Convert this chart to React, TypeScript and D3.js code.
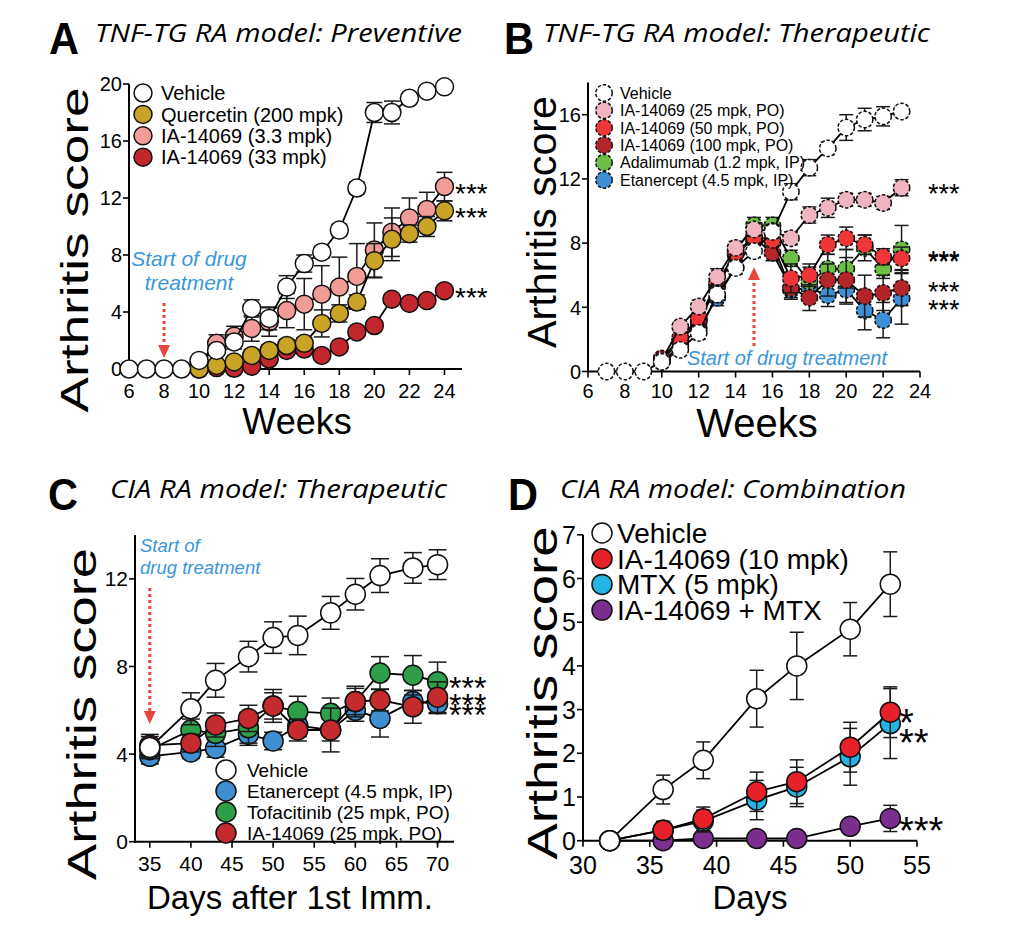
import React from "react";
import * as d3 from "d3";

// ---------------- Panel A data ----------------
const A_weeksVehicle = [6, 7, 8, 9, 10, 11, 12, 13, 14, 15, 16, 17, 18, 19, 20, 21, 22, 23, 24];
const A_weeksTreat = [10, 11, 12, 13, 14, 15, 16, 17, 18, 19, 20, 21, 22, 23, 24];
const A_vehicle = [0, 0, 0, 0, 0.6, 1.3, 1.9, 4.25, 3.55, 5.75, 7.4, 8.2, 9.75, 12.7, 18.0, 18.0, 19.0, 19.5, 19.8];
const A_vehicleErr = [0, 0, 0, 0, 0.2, 0.3, 0.5, 0.6, 0.8, 0.8, 0.6, 0.4, 0.4, 0.4, 0.7, 0.8, 0.3, 0.3, 0.2];
const A_quercetin = [0, 0.25, 0.5, 0.95, 1.3, 1.65, 1.8, 3.2, 3.9, 4.7, 7.6, 9.1, 9.5, 10.0, 11.1];
const A_quercetinErr = [0, 0.2, 0.3, 0.4, 0.4, 0.4, 0.4, 0.95, 0.6, 0.5, 1.2, 1.5, 0.6, 0.7, 0.7];
const A_ia3 = [0.4, 1.8, 2.3, 2.85, 3.3, 4.1, 4.55, 5.25, 5.75, 6.5, 8.35, 9.6, 10.6, 11.2, 12.8];
const A_ia3Err = [0.2, 0.6, 0.7, 0.9, 1.0, 1.2, 1.8, 2.0, 2.1, 2.3, 1.9, 1.7, 1.4, 1.2, 1.0];
const A_ia33 = [0, 0.1, 0.05, 0.2, 0.7, 1.3, 1.4, 0.95, 1.55, 2.6, 3.05, 4.9, 4.6, 4.8, 5.5];
const A_ia33Err = [0, 0.1, 0.1, 0.2, 0.3, 0.3, 0.3, 0.3, 0.3, 0.3, 0.3, 0.3, 0.3, 0.3, 0.3];
const A_xTicks = [6, 8, 10, 12, 14, 16, 18, 20, 22, 24];
const A_yTicks = [0, 4, 8, 12, 16, 20];
const A_legend = ["Vehicle", "Quercetin (200 mpk)", "IA-14069 (3.3 mpk)", "IA-14069 (33 mpk)"];

// ---------------- Panel B data ----------------
const B_weeksVehicle = [7, 8, 9, 10, 11, 12, 13, 14, 15, 16, 17, 18, 19, 20, 21, 22, 23];
const B_weeksTreat = [10, 11, 12, 13, 14, 15, 16, 17, 18, 19, 20, 21, 22, 23];
const B_vehicle = [0, 0, 0, 0.6, 1.35, 2.4, 4.8, 6.45, 7.5, 8.7, 11.2, 12.7, 13.9, 15.2, 15.7, 15.9, 16.2];
const B_vehicleErr = [0, 0, 0, 0.2, 0.3, 0.4, 0.5, 0.4, 0.4, 0.4, 0.5, 0.5, 0.4, 0.8, 0.7, 0.6, 0.3];
const B_ia25 = [0.7, 2.8, 4.05, 5.9, 7.7, 8.85, 8.75, 8.3, 9.75, 10.2, 10.7, 10.7, 10.5, 11.45];
const B_ia25Err = [0.2, 0.3, 0.4, 0.5, 0.4, 0.4, 0.4, 0.4, 0.5, 0.6, 0.4, 0.4, 0.4, 0.5];
const B_ia50 = [0.8, 2.1, 3.3, 5.5, 7.4, 8.4, 8.2, 5.8, 6.0, 7.9, 8.3, 7.9, 7.15, 7.05];
const B_ia50Err = [0.2, 0.3, 0.4, 0.5, 0.4, 0.4, 0.4, 0.9, 0.7, 0.6, 0.7, 0.6, 0.5, 0.7];
const B_ia100 = [0.8, 1.9, 3.1, 5.3, 7.3, 8.3, 7.4, 5.2, 4.6, 5.7, 5.7, 4.7, 4.9, 5.2];
const B_ia100Err = [0.2, 0.3, 0.4, 0.5, 0.4, 0.4, 0.5, 0.7, 0.8, 1.0, 1.4, 1.3, 1.1, 1.1];
const B_adal = [0.7, 1.9, 3.2, 5.4, 7.5, 9.1, 9.1, 7.05, 5.6, 6.4, 6.4, 7.7, 6.4, 7.6];
const B_adalErr = [0.2, 0.3, 0.4, 0.5, 0.4, 0.5, 0.5, 0.5, 0.9, 0.9, 1.2, 0.8, 0.6, 1.5];
const B_etan = [0.6, 1.6, 2.7, 4.6, 6.5, 8.2, 8.0, 5.1, 5.2, 4.75, 5.1, 3.8, 3.2, 4.55];
const B_etanErr = [0.2, 0.3, 0.4, 0.5, 0.4, 0.4, 0.4, 0.5, 0.6, 0.7, 0.9, 1.2, 1.1, 1.6];
const B_xTicks = [6, 8, 10, 12, 14, 16, 18, 20, 22, 24];
const B_yTicks = [0, 4, 8, 12, 16];
const B_legend = [
  "Vehicle",
  "IA-14069 (25 mpk, PO)",
  "IA-14069 (50 mpk, PO)",
  "IA-14069 (100 mpk, PO)",
  "Adalimumab (1.2 mpk, IP)",
  "Etanercept (4.5 mpk, IP)",
];

// ---------------- Panel C data ----------------
const C_days = [35, 40, 43, 47, 50, 53, 57, 60, 63, 67, 70];
const C_vehicle = [4.3, 6.07, 7.37, 8.45, 9.32, 9.42, 10.45, 11.3, 12.15, 12.5, 12.65];
const C_vehicleErr = [0.5, 0.73, 0.77, 0.7, 0.72, 0.88, 0.75, 0.72, 0.77, 0.7, 0.68];
const C_etan = [3.9, 4.1, 4.26, 4.9, 4.6, 5.3, 5.1, 6.0, 5.63, 6.4, 6.3];
const C_etanErr = [0.35, 0.3, 0.4, 0.5, 0.4, 0.5, 0.5, 0.5, 0.85, 0.5, 0.45];
const C_tofa = [4.2, 5.1, 4.95, 5.2, 6.2, 5.94, 5.86, 6.4, 7.7, 7.6, 7.3];
const C_tofaErr = [0.4, 0.5, 0.6, 0.7, 0.6, 0.7, 0.7, 0.6, 0.75, 0.9, 0.9];
const C_ia = [4.4, 4.5, 5.33, 5.63, 6.2, 5.1, 5.1, 6.4, 6.47, 6.16, 6.6];
const C_iaErr = [0.5, 0.4, 0.55, 0.6, 0.75, 0.5, 1.0, 0.7, 0.5, 0.75, 0.7];
const C_xTicks = [35, 40, 45, 50, 55, 60, 65, 70];
const C_yTicks = [0, 4, 8, 12];
const C_legend = ["Vehicle", "Etanercept (4.5 mpk, IP)", "Tofacitinib (25 mpk, PO)", "IA-14069 (25 mpk, PO)"];

// ---------------- Panel D data ----------------
const D_days = [32, 36, 39, 43, 46, 50, 53];
const D_vehicle = [0, 1.17, 1.84, 3.25, 4.0, 4.84, 5.87];
const D_vehicleErr = [0.05, 0.33, 0.42, 0.65, 0.77, 0.61, 0.74];
const D_ia = [0, 0.24, 0.5, 1.12, 1.35, 2.14, 2.94];
const D_iaErr = [0, 0.2, 0.27, 0.45, 0.5, 0.57, 0.58];
const D_mtx = [0, 0.24, 0.45, 0.93, 1.23, 1.92, 2.68];
const D_mtxErr = [0, 0.2, 0.25, 0.45, 0.45, 0.65, 0.8];
const D_combo = [0, 0, 0.05, 0.05, 0.05, 0.33, 0.51];
const D_comboErr = [0, 0, 0, 0, 0, 0.1, 0.3];
const D_xTicks = [30, 35, 40, 45, 50, 55];
const D_yTicks = [0, 1, 2, 3, 4, 5, 6, 7];
const D_legend = ["Vehicle", "IA-14069 (10 mpk)", "MTX (5 mpk)", "IA-14069 + MTX"];

// ---------------- styling ----------------
const FONT = "'Liberation Sans', Arial, Helvetica, sans-serif";
const NARROW = "'Liberation Sans Narrow', 'Arial Narrow', 'Liberation Sans', Arial, sans-serif";
const TITLE = "'Open Sans', 'Noto Sans', 'Liberation Sans', sans-serif";
const BLUE_TXT = "#3a96d8";
const ARROW = "#e8473d";

type Series = { x: number[]; y: number[]; e: number[]; fill: string };
type Star = { v: number; text: string; dy?: number };

type PanelProps = {
  xd: [number, number];
  xr: [number, number];
  yd: [number, number];
  yr: [number, number];
  xt: number[];
  yt: number[];
  series: Series[];
  r: number;
  cap: number;
  dashed?: boolean;
  tickFs: number;
  tickFam: string;
  xLabBase: number;
  stars: Star[];
  starX: number;
  starFs: number;
  children?: (x: d3.ScaleLinear<number, number>, y: d3.ScaleLinear<number, number>) => React.ReactNode;
};

function Panel(p: PanelProps) {
  const x = d3.scaleLinear().domain(p.xd).range(p.xr);
  const y = d3.scaleLinear().domain(p.yd).range(p.yr);
  const line = d3
    .line<[number, number]>()
    .x((d) => x(d[0]))
    .y((d) => y(d[1]));
  const ax = p.xr[0];
  const ay = p.yr[0];
  return (
    <g>
      <line x1={ax} x2={ax} y1={p.yr[1]} y2={ay + 1} stroke="#000" strokeWidth={2} />
      <line x1={ax - 1} x2={p.xr[1]} y1={ay} y2={ay} stroke="#000" strokeWidth={2} />
      {p.yt.map((t) => (
        <g key={"yt" + t}>
          <line x1={ax - 6} x2={ax} y1={y(t)} y2={y(t)} stroke="#000" strokeWidth={1.6} />
          <text x={ax - 7} y={y(t)} dy="0.36em" textAnchor="end" fontFamily={p.tickFam} fontSize={p.tickFs}>
            {t}
          </text>
        </g>
      ))}
      {p.xt.map((t) => (
        <g key={"xt" + t}>
          <line x1={x(t)} x2={x(t)} y1={ay} y2={ay + 6} stroke="#000" strokeWidth={1.6} />
          <text x={x(t)} y={p.xLabBase} textAnchor="middle" fontFamily={p.tickFam} fontSize={p.tickFs}>
            {t}
          </text>
        </g>
      ))}
      {p.children ? p.children(x, y) : null}
      {p.series.map((s, si) => {
        const pts: [number, number][] = s.x.map((xv, i) => [xv, s.y[i]]);
        return (
          <g key={"s" + si}>
            {s.x.map((xv, i) =>
              s.e[i] > 0.05 ? (
                <g key={"e" + i} stroke="#1a1a1a" strokeWidth={1.5}>
                  <line x1={x(xv)} x2={x(xv)} y1={y(s.y[i] - s.e[i])} y2={y(s.y[i] + s.e[i])} />
                  <line x1={x(xv) - p.cap} x2={x(xv) + p.cap} y1={y(s.y[i] + s.e[i])} y2={y(s.y[i] + s.e[i])} />
                  <line x1={x(xv) - p.cap} x2={x(xv) + p.cap} y1={y(s.y[i] - s.e[i])} y2={y(s.y[i] - s.e[i])} />
                </g>
              ) : null
            )}
            <path d={line(pts) || ""} fill="none" stroke="#000" strokeWidth={1.8} />
            {pts.map((d, i) => (
              <circle
                key={"c" + i}
                cx={x(d[0])}
                cy={y(d[1])}
                r={p.r}
                fill={s.fill}
                stroke="#111"
                strokeWidth={1.5}
                strokeDasharray={p.dashed ? "3.5 1.8" : undefined}
              />
            ))}
          </g>
        );
      })}
      {p.stars.map((st, i) => (
        <text
          key={"st" + i}
          x={p.starX}
          y={y(st.v) + p.starFs * 0.58 + (st.dy || 0)}
          fontFamily={FONT}
          fontSize={p.starFs}
          fill="#000"
        >
          {st.text}
        </text>
      ))}
    </g>
  );
}

function Legend(props: {
  x: number;
  y0: number;
  dy: number;
  r: number;
  labels: string[];
  fills: string[];
  fs: number;
  tx: number;
  dashed?: boolean;
}) {
  return (
    <g>
      {props.labels.map((l, i) => (
        <g key={l}>
          <circle
            cx={props.x}
            cy={props.y0 + i * props.dy}
            r={props.r}
            fill={props.fills[i]}
            stroke="#111"
            strokeWidth={1.5}
            strokeDasharray={props.dashed ? "3.5 1.8" : undefined}
          />
          <text x={props.tx} y={props.y0 + i * props.dy} dy="0.36em" fontFamily={FONT} fontSize={props.fs}>
            {l}
          </text>
        </g>
      ))}
    </g>
  );
}

function ArrowDown(props: { x: number; y1: number; y2: number }) {
  return (
    <g>
      <line x1={props.x} x2={props.x} y1={props.y1} y2={props.y2 - 12} stroke={ARROW} strokeWidth={3} strokeDasharray="3 3" />
      <path d={`M${props.x - 6},${props.y2 - 13} L${props.x + 6},${props.y2 - 13} L${props.x},${props.y2} Z`} fill={ARROW} />
    </g>
  );
}

function ArrowUp(props: { x: number; y1: number; y2: number }) {
  return (
    <g>
      <line x1={props.x} x2={props.x} y1={props.y1} y2={props.y2 + 12} stroke={ARROW} strokeWidth={3} strokeDasharray="3 3" />
      <path d={`M${props.x - 6},${props.y2 + 13} L${props.x + 6},${props.y2 + 13} L${props.x},${props.y2} Z`} fill={ARROW} />
    </g>
  );
}

function Heading(props: { letter: string; lx: number; text: string; tx: number; base: number; len: number }) {
  return (
    <g>
      <text
        x={props.lx}
        y={props.base + 12}
        fontFamily={FONT}
        fontWeight="bold"
        fontSize={44}
        textLength={30}
        lengthAdjust="spacingAndGlyphs"
      >
        {props.letter}
      </text>
      <text
        x={props.tx}
        y={props.base}
        fontFamily={TITLE}
        fontStyle="italic"
        fontSize={26}
        textLength={props.len}
        lengthAdjust="spacingAndGlyphs"
      >
        {props.text}
      </text>
    </g>
  );
}

function YLabel(props: { x: number; y: number; len: number; fs: number }) {
  return (
    <text
      transform={`translate(${props.x},${props.y}) rotate(-90)`}
      textAnchor="middle"
      fontFamily={FONT}
      fontSize={props.fs}
      textLength={props.len}
      lengthAdjust="spacingAndGlyphs"
    >
      Arthritis score
    </text>
  );
}

export default function App() {
  const aFills = ["#ffffff", "#c9a326", "#f29c97", "#c1272d"];
  const bFills = ["#ffffff", "#f1b4c1", "#ee3537", "#b4252a", "#6dbe45", "#3d8fd6"];
  const cFills = ["#ffffff", "#3f8fd2", "#2e9e48", "#c42a2e"];
  const dFills = ["#ffffff", "#e8202a", "#22b5e6", "#7b2e8e"];

  const seriesA: Series[] = [
    { x: A_weeksTreat, y: A_ia33, e: A_ia33Err, fill: aFills[3] },
    { x: A_weeksTreat, y: A_ia3, e: A_ia3Err, fill: aFills[2] },
    { x: A_weeksTreat, y: A_quercetin, e: A_quercetinErr, fill: aFills[1] },
    { x: A_weeksVehicle, y: A_vehicle, e: A_vehicleErr, fill: aFills[0] },
  ];
  const seriesB: Series[] = [
    { x: B_weeksTreat, y: B_etan, e: B_etanErr, fill: bFills[5] },
    { x: B_weeksTreat, y: B_adal, e: B_adalErr, fill: bFills[4] },
    { x: B_weeksTreat, y: B_ia100, e: B_ia100Err, fill: bFills[3] },
    { x: B_weeksTreat, y: B_ia50, e: B_ia50Err, fill: bFills[2] },
    { x: B_weeksTreat, y: B_ia25, e: B_ia25Err, fill: bFills[1] },
    { x: B_weeksVehicle, y: B_vehicle, e: B_vehicleErr, fill: bFills[0] },
  ];
  const seriesC: Series[] = [
    { x: C_days, y: C_etan, e: C_etanErr, fill: cFills[1] },
    { x: C_days, y: C_tofa, e: C_tofaErr, fill: cFills[2] },
    { x: C_days, y: C_ia, e: C_iaErr, fill: cFills[3] },
    { x: C_days, y: C_vehicle, e: C_vehicleErr, fill: cFills[0] },
  ];
  const seriesD: Series[] = [
    { x: D_days, y: D_combo, e: D_comboErr, fill: dFills[3] },
    { x: D_days, y: D_mtx, e: D_mtxErr, fill: dFills[2] },
    { x: D_days, y: D_ia, e: D_iaErr, fill: dFills[1] },
    { x: D_days, y: D_vehicle, e: D_vehicleErr, fill: dFills[0] },
  ];

  const last = (a: number[]) => a[a.length - 1];

  return (
    <svg width={1017} height={929} style={{ position: "absolute", left: 0, top: 0, background: "#fff" }} xmlns="http://www.w3.org/2000/svg">
      <rect x={0} y={0} width={1017} height={929} fill="#fff" />

      {/* ---------- Panel A ---------- */}
      <Heading letter="A" lx={49} text="TNF-TG RA model: Preventive" tx={95} base={42} len={367} />
      <YLabel x={88} y={250} len={325} fs={38} />
      <Panel
        xd={[6, 25]}
        xr={[129, 462]}
        yd={[0, 20]}
        yr={[369, 84]}
        xt={A_xTicks}
        yt={A_yTicks}
        series={seriesA}
        r={9}
        cap={8}
        tickFs={20}
        tickFam={NARROW}
        xLabBase={398}
        starX={455}
        starFs={28}
        stars={[
          { v: last(A_ia3), text: "***" },
          { v: last(A_quercetin), text: "***" },
          { v: last(A_ia33), text: "***" },
        ]}
      >
        {(x, y) => (
          <g>
            <text x={189} y={266} textAnchor="middle" fontFamily={FONT} fontStyle="italic" fontSize={21} fill={BLUE_TXT}>
              Start of drug
            </text>
            <text x={189} y={290} textAnchor="middle" fontFamily={FONT} fontStyle="italic" fontSize={21} fill={BLUE_TXT}>
              treatment
            </text>
            <ArrowDown x={x(8)} y1={303} y2={358} />
          </g>
        )}
      </Panel>
      <Legend x={143} y0={93} dy={21.4} r={9} labels={A_legend} fills={aFills} fs={20} tx={161} />
      <text x={297} y={434} textAnchor="middle" fontFamily={FONT} fontSize={36}>
        Weeks
      </text>

      {/* ---------- Panel B ---------- */}
      <Heading letter="B" lx={504} text="TNF-TG RA model: Therapeutic" tx={543} base={42} len={387} />
      <YLabel x={556} y={222} len={252} fs={40} />
      <Panel
        xd={[6, 24]}
        xr={[588, 920]}
        yd={[0, 18]}
        yr={[371.5, 82.6]}
        xt={B_xTicks}
        yt={B_yTicks}
        series={seriesB}
        r={8.2}
        cap={7}
        dashed
        tickFs={20}
        tickFam={NARROW}
        xLabBase={398}
        starX={928}
        starFs={27}
        stars={[
          { v: last(B_ia25), text: "***" },
          { v: last(B_ia50), text: "***", dy: -3 },
          { v: last(B_adal), text: "***", dy: 5 },
          { v: last(B_ia100), text: "***", dy: -3 },
          { v: last(B_etan), text: "***", dy: 5 },
        ]}
      >
        {(x, y) => (
          <g>
            <ArrowUp x={x(15)} y1={346} y2={267} />
            <text x={787} y={365} textAnchor="middle" fontFamily={FONT} fontStyle="italic" fontSize={20} fill={BLUE_TXT}>
              Start of drug treatment
            </text>
          </g>
        )}
      </Panel>
      <Legend x={604} y0={93} dy={17.4} r={8.2} labels={B_legend} fills={bFills} fs={16} tx={620} dashed />
      <text x={757} y={437} textAnchor="middle" fontFamily={FONT} fontSize={40}>
        Weeks
      </text>

      {/* ---------- Panel C ---------- */}
      <Heading letter="C" lx={48} text="CIA RA model: Therapeutic" tx={110} base={498} len={337} />
      <YLabel x={96} y={714} len={332} fs={40} />
      <Panel
        xd={[33.2, 72]}
        xr={[135, 454]}
        yd={[0, 14]}
        yr={[841.7, 535.1]}
        xt={C_xTicks}
        yt={C_yTicks}
        series={seriesC}
        r={10}
        cap={9}
        tickFs={21}
        tickFam={FONT}
        xLabBase={871}
        starX={449}
        starFs={32}
        stars={[
          { v: last(C_tofa), text: "***", dy: -1 },
          { v: last(C_ia), text: "***", dy: 0 },
          { v: last(C_etan), text: "***", dy: 4 },
        ]}
      >
        {(x, y) => (
          <g>
            <text x={140} y={552} fontFamily={FONT} fontStyle="italic" fontSize={18.5} fill={BLUE_TXT}>
              Start of
            </text>
            <text x={140} y={574} fontFamily={FONT} fontStyle="italic" fontSize={18.5} fill={BLUE_TXT}>
              drug treatment
            </text>
            <ArrowDown x={x(35)} y1={588} y2={724} />
          </g>
        )}
      </Panel>
      <Legend x={226} y0={770} dy={21} r={10} labels={C_legend} fills={cFills} fs={19} tx={247} />
      <text x={290} y={909} textAnchor="middle" fontFamily={FONT} fontSize={33}>
        Days after 1st Imm.
      </text>

      {/* ---------- Panel D ---------- */}
      <Heading letter="D" lx={508} text="CIA RA model: Combination" tx={560} base={498} len={346} />
      <YLabel x={557} y={693} len={333} fs={42} />
      <Panel
        xd={[30, 55]}
        xr={[583, 917]}
        yd={[0, 7]}
        yr={[840.7, 534.8]}
        xt={D_xTicks}
        yt={D_yTicks}
        series={seriesD}
        r={10}
        cap={7}
        tickFs={25}
        tickFam={NARROW}
        xLabBase={874}
        starX={899}
        starFs={38}
        stars={[
          { v: last(D_ia), text: "*", dy: 2 },
          { v: last(D_mtx), text: "**", dy: 10 },
          { v: last(D_combo), text: "***", dy: 4 },
        ]}
      />
      <Legend x={602} y0={533} dy={25.7} r={10} labels={D_legend} fills={dFills} fs={28} tx={617} />
      <text x={750} y={909} textAnchor="middle" fontFamily={FONT} fontSize={33}>
        Days
      </text>
    </svg>
  );
}
